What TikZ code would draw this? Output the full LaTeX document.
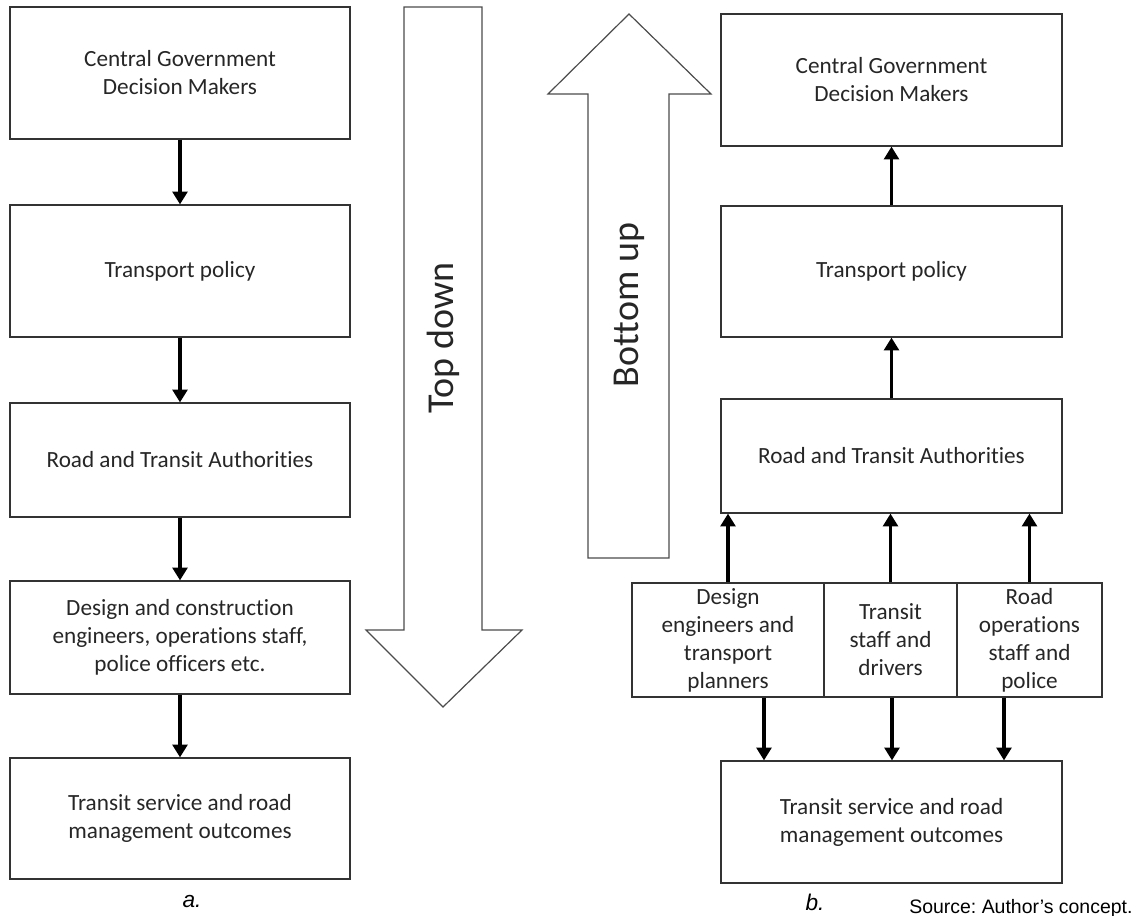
\documentclass[tikz,border=0pt]{standalone}
\usepackage{fontspec}
\setmainfont{Carlito}[Ligatures=NoCommon]
\newfontfamily\arialf{Liberation Sans}
\usetikzlibrary{arrows.meta,calc}
\frenchspacing
\begin{document}
\begin{tikzpicture}[x=0.75pt,y=-0.75pt,
  box/.style 2 args={draw=black!80, line width=0.9pt, minimum width=#1*0.75pt, minimum height=#2*0.75pt, inner sep=0pt, align=center, font=\fontsize{17.4}{21}\selectfont, text=black!85},
  arr/.style={line width=2.3pt, -{Triangle[width=11pt,length=9.5pt]}},
  bigarrow/.style={draw=black!70, line width=0.9pt, fill=white},
  bigtext/.style={font=\fontsize{28.5}{34}\selectfont, rotate=90, text=black!85, inner sep=0pt},
  lab/.style={font=\arialf\fontsize{14.6}{18}\selectfont, inner sep=0pt},
  sublab/.style={font=\arialf\itshape\fontsize{17}{20}\selectfont, inner sep=0pt}]
\useasboundingbox (0,0) rectangle (1139,916);

% big arrows
\draw[bigarrow] (404,7) -- (482,7) -- (482,630) -- (522,630) -- (443,707) -- (366,630) -- (404,630) -- cycle;
\node[bigtext] (td) at (443,338) {Top down};
\draw[bigarrow] (588,558) -- (588,94) -- (548,94) -- (629,14) -- (711,94) -- (669,94) -- (669,558) -- cycle;
\node[bigtext] (bu) at (629,305) {Bottom up};

% left column
\node[box={340}{132}] (a1) at (180,73) {Central Government\\Decision Makers};
\node[box={340}{132}] (a2) at (180,271) {Transport policy};
\node[box={340}{114}] (a3) at (180,460) {Road and Transit Authorities};
\node[box={340}{113}] (a4) at (180,637.5) {Design and construction\\engineers, operations staff,\\police officers etc.};
\node[box={340}{121}] (a5) at (180,818.5) {Transit service and road\\management outcomes};
\draw[arr] (a1.south) -- (a2.north);
\draw[arr] (a2.south) -- (a3.north);
\draw[arr] (a3.south) -- (a4.north);
\draw[arr] (a4.south) -- (a5.north);
\node[sublab] (la) at (192,902) {a.};

% right column
\node[box={341}{132}] (b1) at (891.5,80) {Central Government\\Decision Makers};
\node[box={341}{131}] (b2) at (891.5,271.5) {Transport policy};
\node[box={341}{114}] (b3) at (891.5,456) {Road and Transit Authorities};
\node[box={192}{114}] (d1) at (728,640) {Design\\engineers and\\transport\\planners};
\node[box={133}{114}] (d2) at (890.5,640) {Transit\\staff and\\drivers};
\node[box={145}{114}] (d3) at (1029.5,640) {Road\\operations\\staff and\\police};
\node[box={341}{122}] (b5) at (891.5,822) {Transit service and road\\management outcomes};

\draw[arr] (b2.north) -- (b1.south);
\draw[arr] (b3.north) -- (b2.south);
\draw[arr] (d1.north) -- (d1.north |- b3.south);
\draw[arr] (d2.north) -- (d2.north |- b3.south);
\draw[arr] (d3.north) -- (d3.north |- b3.south);
\coordinate (e1) at ($(d1.south)+(36,0)$);
\coordinate (e2) at ($(d2.south)+(1.5,0)$);
\coordinate (e3) at ($(d3.south)+(-25.5,0)$);
\draw[arr] (e1) -- (e1 |- b5.north);
\draw[arr] (e2) -- (e2 |- b5.north);
\draw[arr] (e3) -- (e3 |- b5.north);

\node[sublab] (lb) at (815,902) {b.};
\node[lab, anchor=west] (src) at (909,908) {Source: Author’s concept.};
\end{tikzpicture}
\end{document}
